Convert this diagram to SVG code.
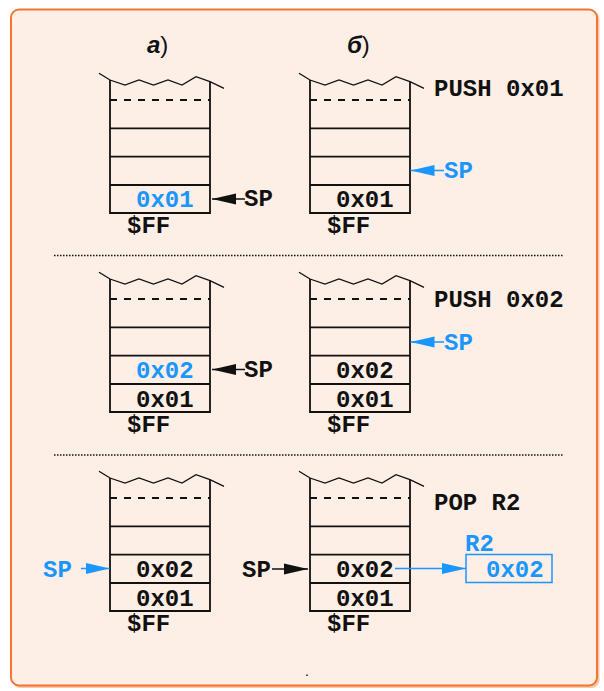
<svg xmlns="http://www.w3.org/2000/svg" xmlns:xlink="http://www.w3.org/1999/xlink" width="604" height="691" viewBox="0 0 604 691">
  <style>
    .mono { font-family: "Liberation Mono", "Courier New", monospace; font-weight: bold; font-size: 24px; }
    .blk { fill: #111111; }
    .blu { fill: #1a96ff; }
    .cap { font-family: "Liberation Sans", Arial, sans-serif; font-size: 24px; fill: #111111; }
    .frame { fill: none; stroke: #111111; stroke-width: 1.8; }
    .zig { fill: none; stroke: #111111; stroke-width: 1.3; }
    .dash { fill: none; stroke: #111111; stroke-width: 1.8; stroke-dasharray: 7 7; }
    .sep { fill: none; stroke: #111111; stroke-width: 1.5; stroke-dasharray: 1.5 1.5; }
    .ptr { fill: none; stroke: #111111; stroke-width: 1.5; }
    .ptr-b { fill: none; stroke: #1a96ff; stroke-width: 1.5; }
  </style>
  <defs>
    <marker id="headK" markerUnits="userSpaceOnUse" markerWidth="25" markerHeight="12" refX="24" refY="6" orient="auto" viewBox="0 0 25 12">
      <path d="M0,0.5 L24,6 L0,11.5 Z" fill="#111111"/>
    </marker>
    <marker id="headB" markerUnits="userSpaceOnUse" markerWidth="25" markerHeight="12" refX="24" refY="6" orient="auto" viewBox="0 0 25 12">
      <path d="M0,0.5 L24,6 L0,11.5 Z" fill="#1a96ff"/>
    </marker>
    <!-- stack frame: torn top, dashed boundary, four cells; origin at left edge -->
    <g id="stackFrame">
      <path class="zig" d="M-11,73.3 L0,80 L15,85 L29,80 L43.5,85 L58,80 L72,85 L86,76.7 L100,81.7 L114,88.3"/>
      <path class="frame" d="M0,80 V213 H100 V81.7"/>
      <path class="dash" d="M0,100 H100"/>
      <path class="frame" d="M0,128.3 H100 M0,156.7 H100 M0,185 H100"/>
    </g>
  </defs>

  <!-- panel -->
  <rect x="12.5" y="11" width="587" height="677" rx="8" fill="#f9a070" opacity="0.6"/>
  <rect x="11" y="9.5" width="586" height="676" rx="8" fill="#fdeee6" stroke="#f27530" stroke-width="2"/>

  <!-- column captions -->
  <text class="cap" x="147" y="53"><tspan font-weight="bold" font-style="italic">а</tspan>)</text>
  <text class="cap" x="347" y="53"><tspan font-weight="bold" font-style="italic">б</tspan>)</text>

  <!-- separators -->
  <g id="separators">
    <path class="sep" d="M54,255.5 H563"/>
    <path class="sep" d="M54,455 H563"/>
  </g>

  <!-- row 1: PUSH 0x01 -->
  <g id="stack-a1">
    <use xlink:href="#stackFrame" transform="translate(110,0)"/>
    <text class="mono blu" x="136" y="207">0x01</text>
    <text class="mono blk" x="127" y="233">$FF</text>
  </g>
  <g id="stack-b1">
    <use xlink:href="#stackFrame" transform="translate(310,0)"/>
    <text class="mono blk" x="336" y="207">0x01</text>
    <text class="mono blk" x="327" y="233">$FF</text>
    <text class="mono blk" x="434" y="96">PUSH 0x01</text>
  </g>
  <g id="sp-a1"><text class="mono blk" x="244" y="206">SP</text></g>
  <g id="sp-b1"><text class="mono blu" x="444" y="178">SP</text></g>

  <!-- row 2: PUSH 0x02 -->
  <g id="stack-a2">
    <use xlink:href="#stackFrame" transform="translate(110,199)"/>
    <text class="mono blu" x="136" y="378">0x02</text>
    <text class="mono blk" x="136" y="407">0x01</text>
    <text class="mono blk" x="127" y="432">$FF</text>
  </g>
  <g id="stack-b2">
    <use xlink:href="#stackFrame" transform="translate(310,199)"/>
    <text class="mono blk" x="336" y="378">0x02</text>
    <text class="mono blk" x="336" y="407">0x01</text>
    <text class="mono blk" x="327" y="432">$FF</text>
    <text class="mono blk" x="434" y="307">PUSH 0x02</text>
  </g>
  <g id="sp-a2"><text class="mono blk" x="244" y="377">SP</text></g>
  <g id="sp-b2"><text class="mono blu" x="444" y="350">SP</text></g>

  <!-- row 3: POP R2 -->
  <g id="stack-a3">
    <use xlink:href="#stackFrame" transform="translate(110,398)"/>
    <text class="mono blk" x="136" y="577">0x02</text>
    <text class="mono blk" x="136" y="606">0x01</text>
    <text class="mono blk" x="127" y="631">$FF</text>
  </g>
  <g id="stack-b3">
    <use xlink:href="#stackFrame" transform="translate(310,398)"/>
    <text class="mono blk" x="336" y="577">0x02</text>
    <text class="mono blk" x="336" y="606">0x01</text>
    <text class="mono blk" x="327" y="631">$FF</text>
    <text class="mono blk" x="434" y="510">POP R2</text>
  </g>
  <g id="sp-a3"><text class="mono blu" x="43" y="577">SP</text></g>
  <g id="sp-b3"><text class="mono blk" x="242" y="577">SP</text></g>
  <g id="reg-r2">
    <text class="mono blu" x="465" y="551">R2</text>
    <rect x="466" y="554.5" width="86" height="28" fill="none" stroke="#1a96ff" stroke-width="1.5"/>
    <text class="mono blu" x="486" y="577">0x02</text>
  </g>

  <!-- pointers -->
  <g id="connectors">
    <path class="ptr" d="M245,199 H212" marker-end="url(#headK)"/>
    <path class="ptr-b" d="M444,170.5 H410.5" marker-end="url(#headB)"/>
    <path class="ptr" d="M245,369.5 H212" marker-end="url(#headK)"/>
    <path class="ptr-b" d="M444,342 H410.5" marker-end="url(#headB)"/>
    <path class="ptr-b" d="M81,568.5 H109.5" marker-end="url(#headB)"/>
    <path class="ptr" d="M272,569 H308" marker-end="url(#headK)"/>
    <path class="ptr-b" d="M395,568.5 H466" marker-end="url(#headB)"/>
  </g>

  <text x="305" y="676" font-family="Liberation Sans, Arial, sans-serif" font-size="14" fill="#111111">.</text>
</svg>
